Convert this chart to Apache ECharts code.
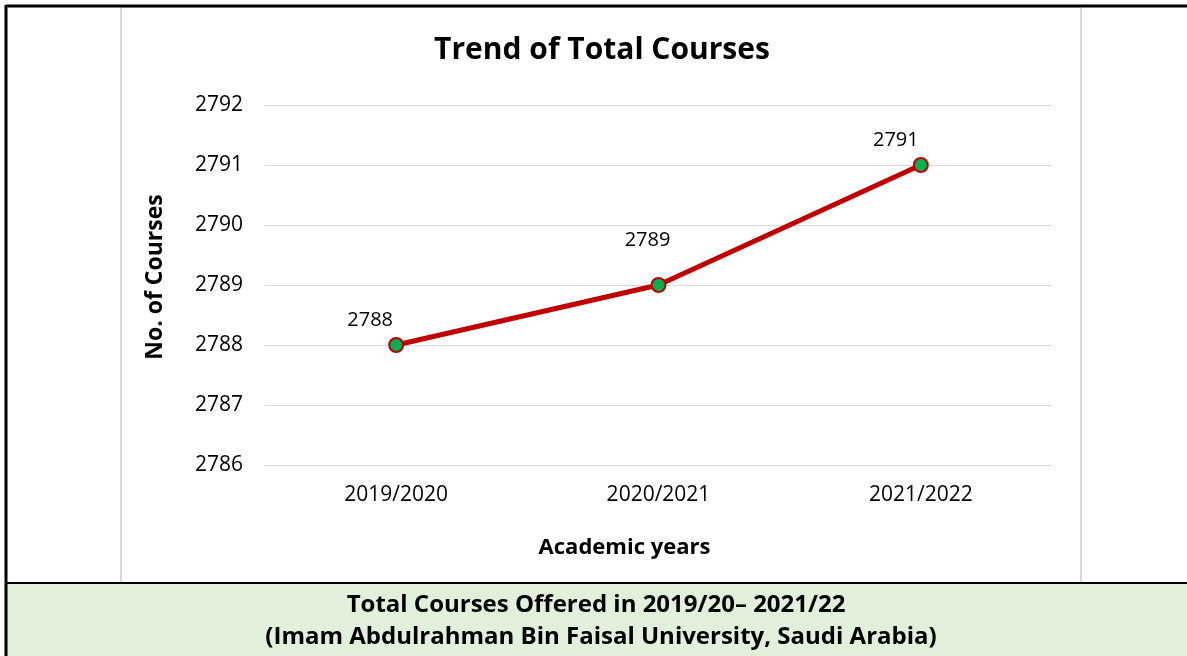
<!DOCTYPE html>
<html>
<head>
<meta charset="utf-8">
<script src="https://cdn.jsdelivr.net/npm/echarts@6/dist/echarts.min.js"></script>
<style>
  html, body { margin: 0; padding: 0; background: #fff; }
  #chart { width: 1187px; height: 656px; }
</style>
</head>
<body>
<div id="chart"></div>
<script>
// data
const years = ['2019/2020', '2020/2021', '2021/2022']
const totalCourses = [2788, 2789, 2791]
const captionLines = [
  'Total Courses Offered in 2019/20– 2021/22',
  '(Imam Abdulrahman Bin Faisal University, Saudi Arabia)'
]

// data labels were nudged by hand in the original
const labelNudge = [[-26, 0], [-11, -20], [-25, 0]]

const font = '"Open Sans", "Liberation Sans", sans-serif'
const chart = echarts.init(document.getElementById('chart'))

chart.setOption({
  animation: false,
  title: {
    text: 'Trend of Total Courses',
    left: 597,
    top: 30,
    textAlign: 'center',
    textStyle: { fontFamily: font, fontSize: 30, fontWeight: 'bold', color: '#000' }
  },
  grid: { left: 265, right: 135, top: 105, bottom: 191 },
  xAxis: {
    type: 'category',
    data: years,
    name: 'Academic years',
    nameLocation: 'middle',
    nameGap: 72,
    nameTextStyle: {
      fontFamily: font, fontSize: 22, fontWeight: 'bold', color: '#000',
      padding: [0, 68, 0, 0]
    },
    axisLine: { show: false },
    axisTick: { show: false },
    axisLabel: { fontFamily: font, fontSize: 21, color: '#000', margin: 20 }
  },
  yAxis: {
    type: 'value',
    min: 2786,
    max: 2792,
    interval: 1,
    name: 'No. of Courses',
    nameLocation: 'middle',
    nameGap: 98,
    nameTextStyle: {
      fontFamily: font, fontSize: 23, fontWeight: 'bold', color: '#000',
      padding: [0, 0, 0, 16]
    },
    axisLabel: {
      fontFamily: font, fontSize: 21, color: '#000', margin: 22,
      formatter: v => String(v)
    },
    splitLine: { lineStyle: { color: '#d9d9d9', width: 1 } }
  },
  series: [{
    type: 'line',
    data: totalCourses.map((v, i) => ({
      value: v,
      label: { offset: labelNudge[i] }
    })),
    symbol: 'circle',
    symbolSize: 14,
    lineStyle: { color: '#c00000', width: 5 },
    itemStyle: { color: '#00b050', borderColor: '#c00000', borderWidth: 2 },
    label: {
      show: true,
      position: 'top',
      distance: 7,
      fontFamily: font,
      fontSize: 20,
      color: '#000'
    }
  }],
  graphic: [
    // caption band
    {
      type: 'rect', z: -10,
      shape: { x: 6, y: 583, width: 1181, height: 73 },
      style: { fill: '#e2efda' }
    },
    // chart box border
    {
      type: 'rect', z: -5,
      shape: { x: 121, y: 7, width: 960, height: 576 },
      style: { fill: 'none', stroke: '#d9d9d9', lineWidth: 2 }
    },
    // outer table lines
    {
      type: 'line', shape: { x1: 6, y1: 6, x2: 1187, y2: 6 },
      style: { stroke: '#000', lineWidth: 3 }
    },
    {
      type: 'line', shape: { x1: 6, y1: 5, x2: 6, y2: 656 },
      style: { stroke: '#000', lineWidth: 3 }
    },
    {
      type: 'line', shape: { x1: 6, y1: 583, x2: 1187, y2: 583 },
      style: { stroke: '#000', lineWidth: 2 }
    },
    {
      type: 'text', x: 596, y: 605,
      style: {
        text: captionLines[0],
        fontFamily: font, fontSize: 24, fontWeight: 'bold',
        align: 'center', verticalAlign: 'middle', fill: '#000'
      }
    },
    {
      type: 'text', x: 601, y: 637,
      style: {
        text: captionLines[1],
        fontFamily: font, fontSize: 24, fontWeight: 'bold',
        align: 'center', verticalAlign: 'middle', fill: '#000'
      }
    }
  ]
})
</script>
</body>
</html>
